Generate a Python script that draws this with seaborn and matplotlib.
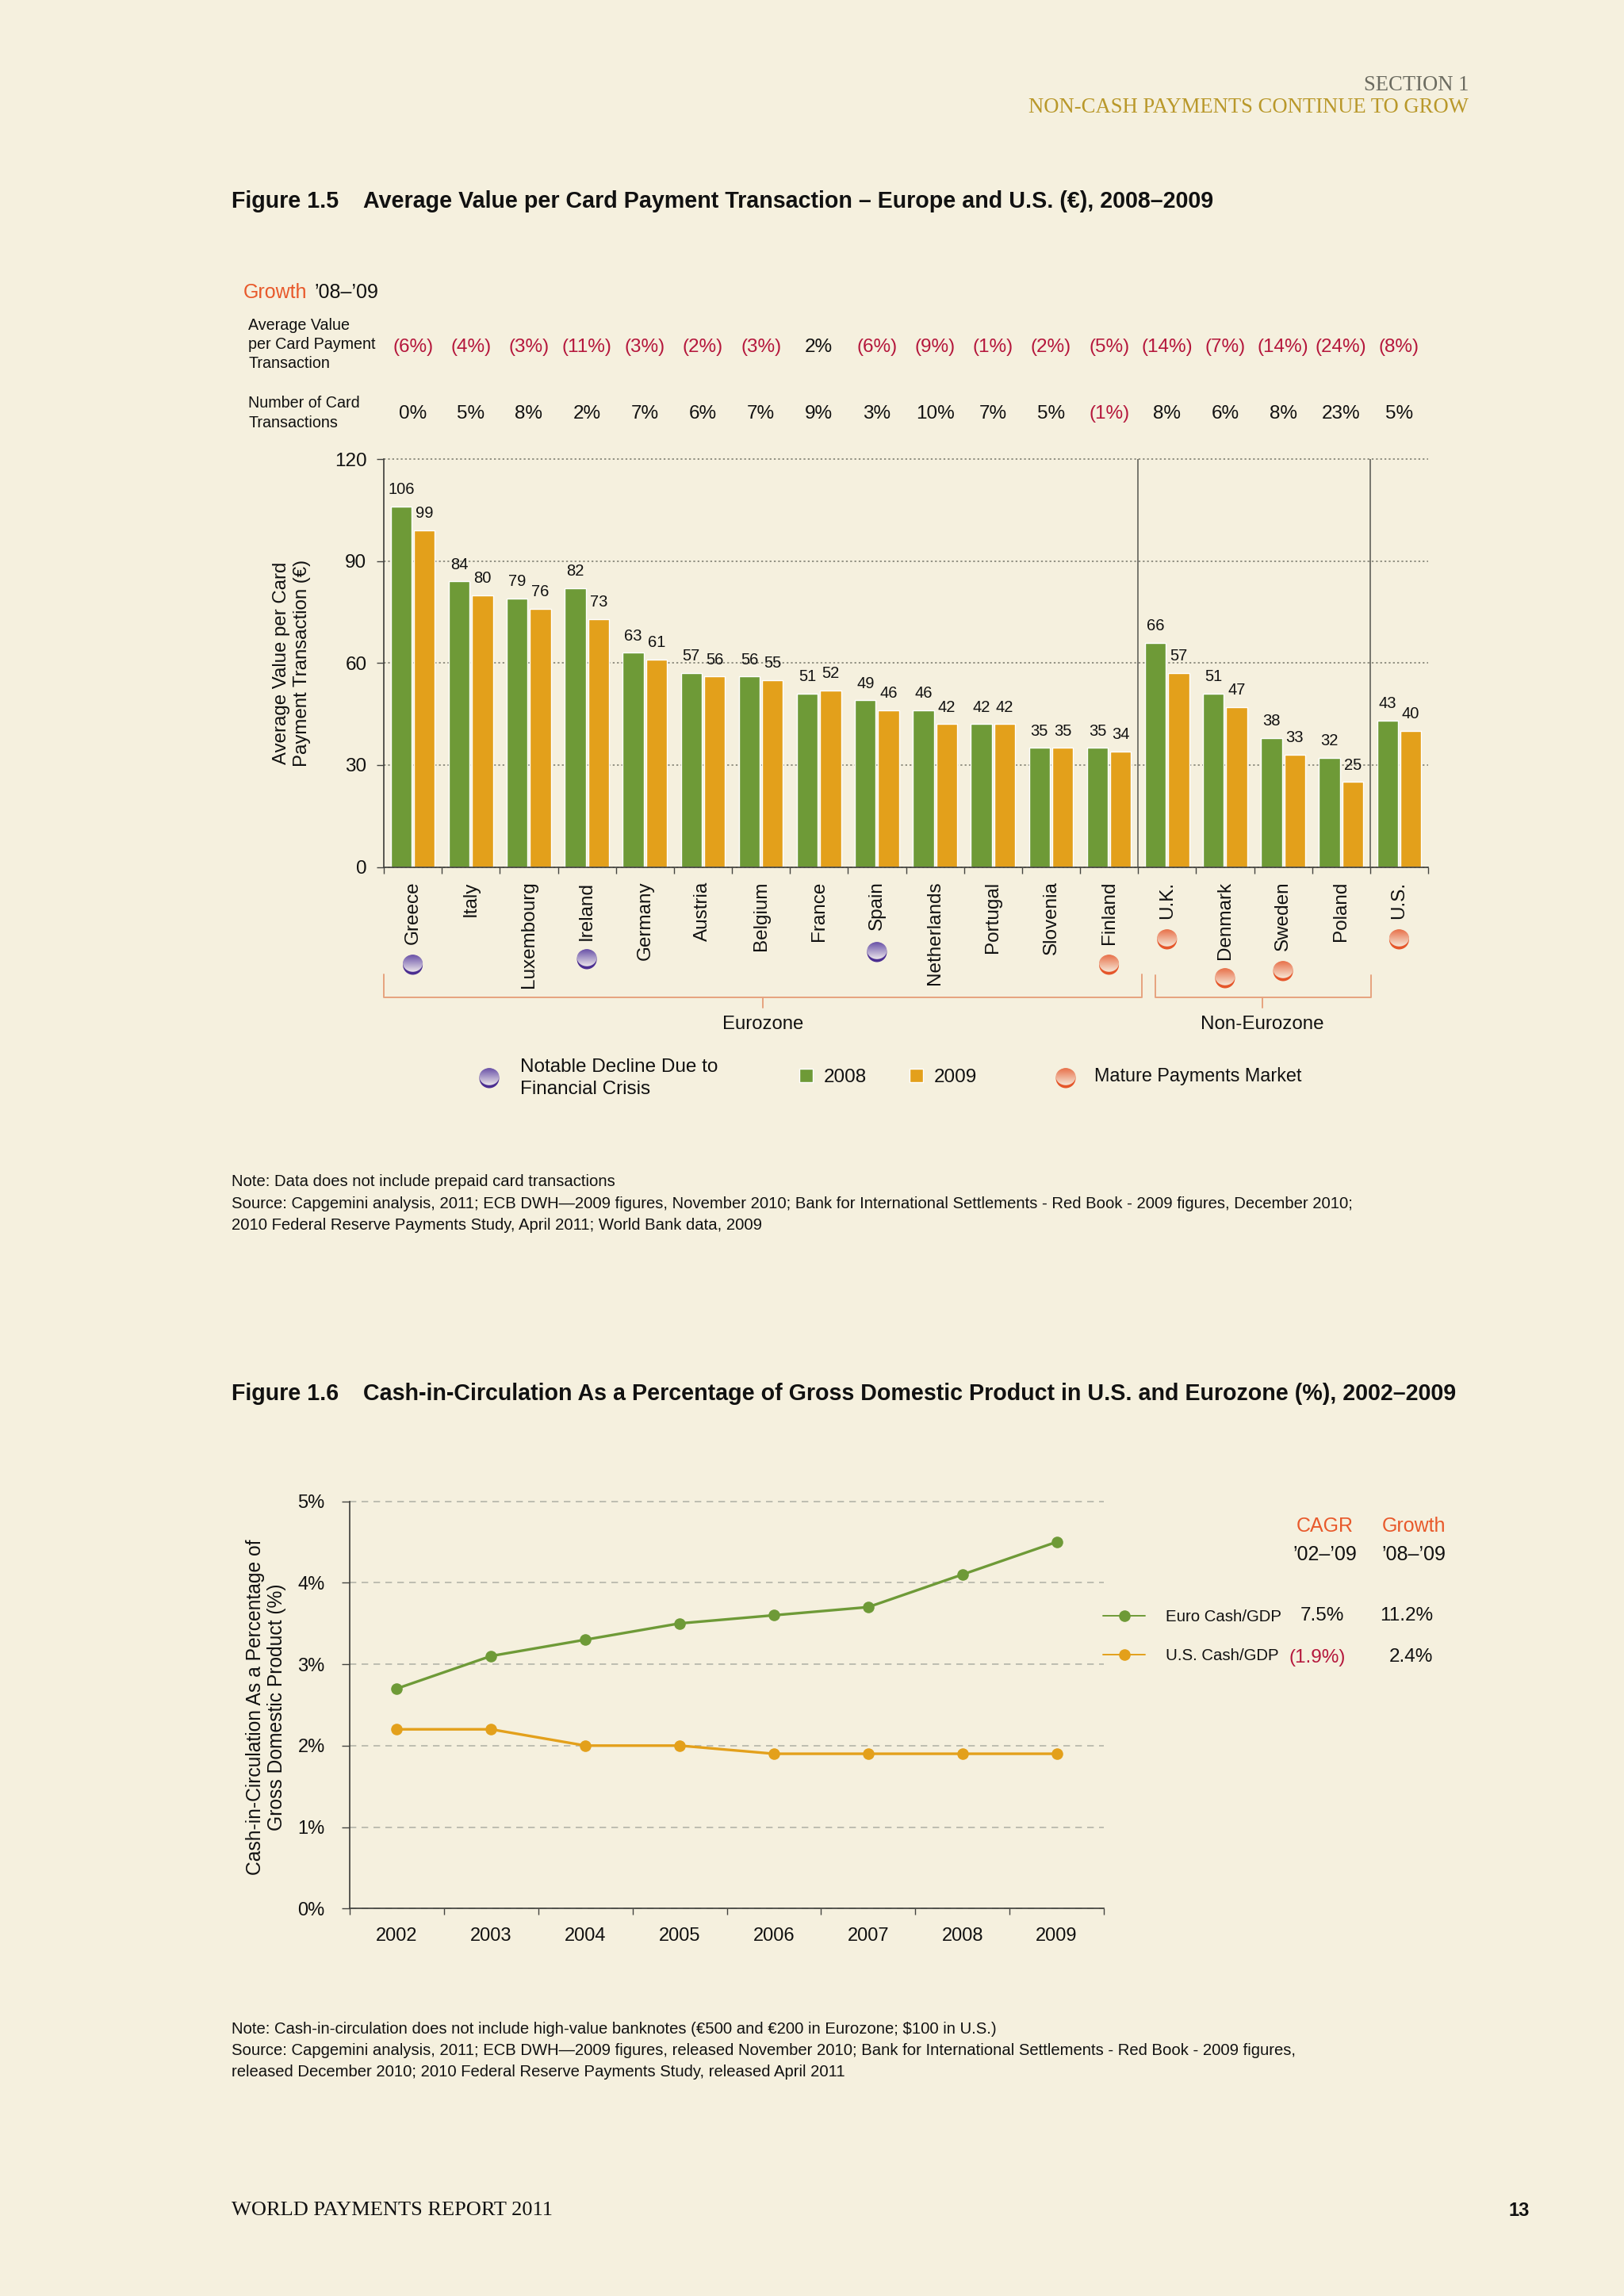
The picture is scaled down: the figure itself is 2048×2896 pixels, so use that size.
# Average card transaction value + cash-in-circulation page

import numpy as np
import pandas as pd
import seaborn as sns
import matplotlib.pyplot as plt
from matplotlib.patches import Ellipse
from matplotlib.transforms import blended_transform_factory

# ------------------------------------------------------------
# DATA
# ------------------------------------------------------------
countries = ["Greece", "Italy", "Luxembourg", "Ireland", "Germany", "Austria",
             "Belgium", "France", "Spain", "Netherlands", "Portugal", "Slovenia",
             "Finland", "U.K.", "Denmark", "Sweden", "Poland", "U.S."]
value_2008 = [106, 84, 79, 82, 63, 57, 56, 51, 49, 46, 42, 35, 35, 66, 51, 38, 32, 43]
value_2009 = [99, 80, 76, 73, 61, 56, 55, 52, 46, 42, 42, 35, 34, 57, 47, 33, 25, 40]
growth_value = ["(6%)", "(4%)", "(3%)", "(11%)", "(3%)", "(2%)", "(3%)", "2%", "(6%)",
                "(9%)", "(1%)", "(2%)", "(5%)", "(14%)", "(7%)", "(14%)", "(24%)", "(8%)"]
growth_count = ["0%", "5%", "8%", "2%", "7%", "6%", "7%", "9%", "3%",
                "10%", "7%", "5%", "(1%)", "8%", "6%", "8%", "23%", "5%"]
decline_markets = ["Greece", "Ireland", "Spain"]
mature_markets = ["Finland", "U.K.", "Denmark", "Sweden", "U.S."]

years = [2002, 2003, 2004, 2005, 2006, 2007, 2008, 2009]
euro_cash = [2.7, 3.1, 3.3, 3.5, 3.6, 3.7, 4.1, 4.5]
us_cash = [2.2, 2.2, 2.0, 2.0, 1.9, 1.9, 1.9, 1.9]

# ------------------------------------------------------------
# STYLE
# ------------------------------------------------------------
BG = "#F5F0DE"
GREEN = "#6E9A37"
ORANGE = "#E3A01B"
CRIMSON = "#B5173C"
RED_ORANGE = "#E8592B"
BRACKET = "#E6A27E"
INK = "#111111"
AXIS = "#444440"

sns.set_theme(style="ticks")
plt.rcParams["font.family"] = ["Liberation Sans", "DejaVu Sans"]
plt.rcParams["axes.edgecolor"] = AXIS
plt.rcParams["xtick.color"] = AXIS
plt.rcParams["ytick.color"] = AXIS
plt.rcParams["text.color"] = INK

W, H = 2048, 2896
fig = plt.figure(figsize=(W / 100, H / 100), dpi=100, facecolor=BG)

def axes_rect(left, top, right, bottom):
    return [left / W, 1 - bottom / H, (right - left) / W, (bottom - top) / H]

ax1 = fig.add_axes(axes_rect(484, 579, 1801, 1093.5), facecolor="none")
ax2 = fig.add_axes(axes_rect(441, 1893.5, 1392, 2407.3), facecolor="none")

# overlay in page pixels for the page furniture
page = fig.add_axes([0, 0, 1, 1], facecolor="none", zorder=5)
page.set_xlim(0, W)
page.set_ylim(H, 0)
page.axis("off")

def txt(x, y, s, size=15.5, **kw):
    kw.setdefault("va", "center")
    page.text(x, y + 2.5, s, fontsize=size, **kw)

def dot(x, y, base, top, bottom):
    page.add_patch(Ellipse((x, y), 25, 25, fc=base, ec="none"))
    clip = Ellipse((x, y - 2), 25, 21.5, fc="none", ec="none")
    page.add_patch(clip)
    grad = np.linspace(0, 1, 32)[:, None, None]
    rgb = (1 - grad) * np.array(plt.matplotlib.colors.to_rgb(top)) \
        + grad * np.array(plt.matplotlib.colors.to_rgb(bottom))
    im = page.imshow(rgb, extent=(x - 13, x + 13, y + 9, y - 13), aspect="auto", zorder=3)
    im.set_clip_path(clip)
    page.set_xlim(0, W)
    page.set_ylim(H, 0)

def purple_dot(x, y):
    dot(x, y, "#4B2E91", "#6A52A8", "#EAE4EA")

def orange_dot(x, y):
    dot(x, y, "#E5562A", "#E8714A", "#F6E6D6")

# ------------------------------------------------------------
# HEADER / TITLES / NOTES
# ------------------------------------------------------------
SERIF = ["Liberation Serif", "DejaVu Serif"]
txt(1852, 105, "SECTION 1", size=19.2, family=SERIF, ha="right", color="#6B6B60")
txt(1852, 133.5, "NON-CASH PAYMENTS CONTINUE TO GROW", size=19.2, family=SERIF, ha="right", color="#B9982A")

txt(292, 251, "Figure 1.5", size=20.6, weight="bold")
txt(458, 251, "Average Value per Card Payment Transaction \u2013 Europe and U.S. (\u20ac), 2008\u20132009",
    size=20.6, weight="bold")
txt(292, 1755, "Figure 1.6", size=20.6, weight="bold")
txt(458, 1755, "Cash-in-Circulation As a Percentage of Gross Domestic Product in U.S. and Eurozone (%), 2002\u20132009",
    size=20.6, weight="bold")

txt(292, 1488, "Note: Data does not include prepaid card transactions", size=14.6)
txt(292, 1515.5, "Source: Capgemini analysis, 2011; ECB DWH\u20142009 figures, November 2010; Bank for International Settlements - Red Book - 2009 figures, December 2010;", size=14.6)
txt(292, 1543, "2010 Federal Reserve Payments Study, April 2011; World Bank data, 2009", size=14.6)

txt(292, 2557, "Note: Cash-in-circulation does not include high-value banknotes (\u20ac500 and \u20ac200 in Eurozone; $100 in U.S.)", size=14.6)
txt(292, 2584, "Source: Capgemini analysis, 2011; ECB DWH\u20142009 figures, released November 2010; Bank for International Settlements - Red Book - 2009 figures,", size=14.6)
txt(292, 2611, "released December 2010; 2010 Federal Reserve Payments Study, released April 2011", size=14.6)

txt(292, 2786, "WORLD PAYMENTS REPORT 2011", size=19, family=SERIF)
txt(1929, 2786, "13", size=17, weight="bold", ha="right")

# ------------------------------------------------------------
# FIGURE 1.5 - BARS
# ------------------------------------------------------------
bars = pd.DataFrame({
    "country": countries * 2,
    "year": ["2008"] * len(countries) + ["2009"] * len(countries),
    "value": value_2008 + value_2009,
})

sns.barplot(data=bars, x="country", y="value", hue="year",
            palette={"2008": GREEN, "2009": ORANGE}, saturation=1,
            width=0.8, gap=0.1, ax=ax1)

ax1.set_xlim(-0.5, len(countries) - 0.5)
ax1.set_ylim(0, 120)
ax1.set_yticks([0, 30, 60, 90, 120])
ax1.set_xlabel("")
ax1.set_ylabel("")
ax1.yaxis.grid(True, color="#77776A", linestyle=(0, (1.5, 2)), linewidth=1.1, clip_on=False)
ax1.set_axisbelow(True)
ax1.tick_params(axis="y", labelsize=17.5, length=6.5, width=1, pad=9, labelcolor=INK)
ax1.set_xticks(np.arange(-0.5, len(countries)), minor=True)
ax1.tick_params(axis="x", which="minor", length=6, width=1)
ax1.tick_params(axis="x", which="major", length=0, pad=13, labelsize=17.5, labelrotation=90, labelcolor=INK)
sns.despine(ax=ax1)

for container in ax1.containers:
    ax1.bar_label(container, fmt="%d", padding=8.5, fontsize=14.5, color=INK)

# separators between the market groups
ax1.axvline(12.5, color="#55554F", lw=1.1)
ax1.axvline(16.5, color="#55554F", lw=1.1)

sns.move_legend(ax1, loc="center left", bbox_to_anchor=(1008 / W, 1 - 1359 / H),
                bbox_transform=fig.transFigure, ncol=2, title=None, frameon=False,
                fontsize=17.5, handlelength=0.7, handleheight=0.7, handletextpad=0.58,
                columnspacing=2.2, borderpad=0, borderaxespad=0)

txt(368, 834, "Average Value per Card\nPayment Transaction (\u20ac)", size=17.3, rotation=90,
    ha="center", multialignment="center", linespacing=1.2)

# growth rows above the bars, centred on the categories
row = blended_transform_factory(ax1.transData, page.transData)
for i in range(len(countries)):
    c1 = CRIMSON if growth_value[i].startswith("(") else INK
    c2 = CRIMSON if growth_count[i].startswith("(") else INK
    page.text(i, 438, growth_value[i], transform=row, ha="center", va="center", fontsize=17.5, color=c1)
    page.text(i, 522, growth_count[i], transform=row, ha="center", va="center", fontsize=17.5, color=c2)

txt(307, 366, "Growth", size=18, color=RED_ORANGE)
txt(396, 366, "\u201908\u2013\u201909", size=18)
for y, s in zip([408, 432, 456], ["Average Value", "per Card Payment", "Transaction"]):
    txt(313, y, s, size=14.2)
for y, s in zip([506, 531], ["Number of Card", "Transactions"]):
    txt(313, y, s, size=14.2)

# market flags under the country names
decline_y = {"Greece": 1217, "Ireland": 1210, "Spain": 1201}
mature_y = {"Finland": 1217, "U.K.": 1185, "Denmark": 1234, "Sweden": 1225, "U.S.": 1185}

def category_x(name):
    return ax1.transData.transform((countries.index(name), 0))[0]

for name in decline_markets:
    purple_dot(category_x(name), decline_y[name])
for name in mature_markets:
    orange_dot(category_x(name), mature_y[name])

# group brackets
page.plot([484, 484, 1440, 1440], [1229, 1258, 1258, 1229], color=BRACKET, lw=1.4)
page.plot([962, 962], [1258, 1271], color=BRACKET, lw=1.4)
page.plot([1457, 1457, 1729, 1729], [1230, 1258, 1258, 1230], color=BRACKET, lw=1.4)
page.plot([1592, 1592], [1258, 1271], color=BRACKET, lw=1.4)
page.set_xlim(0, W)
page.set_ylim(H, 0)
txt(962, 1290, "Eurozone", size=17.2, ha="center")
txt(1592, 1290, "Non-Eurozone", size=17.4, ha="center")

purple_dot(617, 1360)
txt(656, 1344, "Notable Decline Due to", size=17.5)
txt(656, 1372, "Financial Crisis", size=17.5)
orange_dot(1344, 1360)
txt(1380, 1355, "Mature Payments Market", size=16.8)

# ------------------------------------------------------------
# FIGURE 1.6 - LINES
# ------------------------------------------------------------
cash = pd.DataFrame({
    "year": years * 2,
    "series": ["Euro Cash/GDP"] * len(years) + ["U.S. Cash/GDP"] * len(years),
    "share": euro_cash + us_cash,
})

sns.lineplot(data=cash, x="year", y="share", hue="series",
             palette={"Euro Cash/GDP": GREEN, "U.S. Cash/GDP": ORANGE},
             marker="o", markersize=10.5, markeredgecolor="none", linewidth=2.4, ax=ax2)

ax2.set_xlim(2001.5, 2009.5)
ax2.set_ylim(0, 5)
ax2.set_xlabel("")
ax2.set_ylabel("")
ax2.set_yticks(range(6))
ax2.set_yticklabels([f"{v}%" for v in range(6)])
ax2.set_xticks(years)
ax2.set_xticks(np.arange(2001.5, 2010), minor=True)
ax2.yaxis.grid(True, color="#B4B4A8", linestyle=(0, (5, 4)), linewidth=1.2, clip_on=False)
ax2.set_axisbelow(True)
ax2.tick_params(axis="y", labelsize=17, length=7.5, width=1, pad=15, labelcolor=INK)
ax2.tick_params(axis="x", which="major", length=0, pad=17, labelsize=17, labelcolor=INK)
ax2.tick_params(axis="x", which="minor", length=6, width=1)
sns.despine(ax=ax2)

sns.move_legend(ax2, loc="center left", bbox_to_anchor=(1391 / W, 1 - 2064 / H),
                bbox_transform=fig.transFigure, title=None, frameon=False, fontsize=14.7,
                handlelength=2.62, handletextpad=1.25, labelspacing=1.45, borderpad=0, borderaxespad=0)
for handle in ax2.get_legend().get_lines():
    handle.set_linewidth(1.4)

txt(335.5, 2151, "Cash-in-Circulation As a Percentage of\nGross Domestic Product (%)", size=17.7,
    rotation=90, ha="center", multialignment="center", linespacing=1.2)

txt(1671, 1922, "CAGR", size=18, ha="center", color=RED_ORANGE)
txt(1783, 1922, "Growth", size=18, ha="center", color=RED_ORANGE)
txt(1671, 1959, "\u201902\u2013\u201909", size=18, ha="center")
txt(1783, 1959, "\u201908\u2013\u201909", size=18, ha="center")
txt(1667, 2035, "7.5%", size=17.5, ha="center")
txt(1807, 2035, "11.2%", size=17.5, ha="right")
txt(1661, 2088, "(1.9%)", size=17.5, ha="center", color=CRIMSON)
txt(1807, 2088, "2.4%", size=17.5, ha="right")

fig.savefig("out.png", dpi=100, facecolor=BG)
